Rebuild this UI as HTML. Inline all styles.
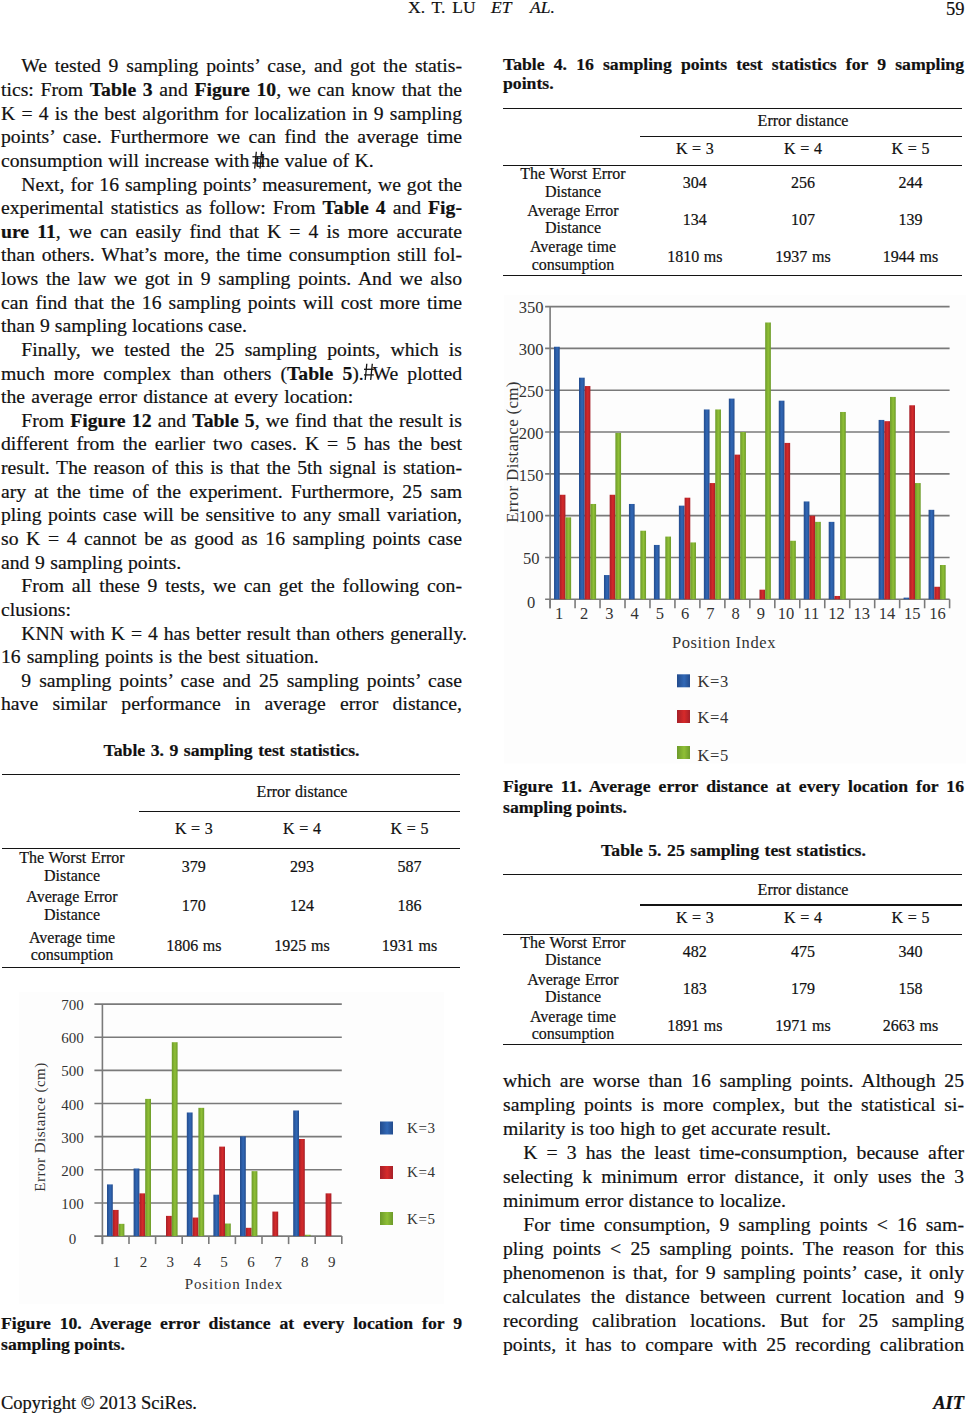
<!DOCTYPE html>
<html><head><meta charset="utf-8"><style>
html,body{margin:0;padding:0;background:#fff;}
body{width:966px;height:1414px;position:relative;overflow:hidden;font-family:"Liberation Serif",serif;color:#111;-webkit-text-stroke:0.2px #111;}
.l{position:absolute;white-space:nowrap;}
.l b{font-weight:bold;}
.r{position:absolute;background:#141414;}
.hs{position:relative;}
.hash{position:absolute;left:-2px;top:-1px;}
.hash2{position:absolute;left:-1px;top:-1px;}
svg text{font-family:"Liberation Serif",serif;-webkit-text-stroke:0;}
</style></head><body>
<div class="l " style="left:21.30px;top:56.40px;font-size:19.7px;line-height:19.7px;width:440.70px;text-align:justify;text-align-last:justify;">We tested 9 sampling points&rsquo; case, and got the statis-</div>
<div class="l " style="left:1.00px;top:80.03px;font-size:19.7px;line-height:19.7px;width:461.00px;text-align:justify;text-align-last:justify;">tics: From <b>Table 3</b> and <b>Figure 10</b>, we can know that the</div>
<div class="l " style="left:1.00px;top:103.66px;font-size:19.7px;line-height:19.7px;width:461.00px;text-align:justify;text-align-last:justify;">K = 4 is the best algorithm for localization in 9 sampling</div>
<div class="l " style="left:1.00px;top:127.29px;font-size:19.7px;line-height:19.7px;width:461.00px;text-align:justify;text-align-last:justify;">points&rsquo; case. Furthermore we can find the average time</div>
<div class="l " style="left:1.00px;top:150.92px;font-size:19.7px;line-height:19.7px;width:461.00px;word-spacing:0.6px;">consumption will increase with the value of K.</div>
<div class="l " style="left:21.30px;top:174.55px;font-size:19.7px;line-height:19.7px;width:440.70px;text-align:justify;text-align-last:justify;">Next, for 16 sampling points&rsquo; measurement, we got the</div>
<div class="l " style="left:1.00px;top:198.18px;font-size:19.7px;line-height:19.7px;width:461.00px;text-align:justify;text-align-last:justify;">experimental statistics as follow: From <b>Table 4</b> and <b>Fig-</b></div>
<div class="l " style="left:1.00px;top:221.81px;font-size:19.7px;line-height:19.7px;width:461.00px;text-align:justify;text-align-last:justify;"><b>ure 11</b>, we can easily find that K = 4 is more accurate</div>
<div class="l " style="left:1.00px;top:245.44px;font-size:19.7px;line-height:19.7px;width:461.00px;text-align:justify;text-align-last:justify;">than others. What&rsquo;s more, the time consumption still fol-</div>
<div class="l " style="left:1.00px;top:269.07px;font-size:19.7px;line-height:19.7px;width:461.00px;text-align:justify;text-align-last:justify;">lows the law we got in 9 sampling points. And we also</div>
<div class="l " style="left:1.00px;top:292.70px;font-size:19.7px;line-height:19.7px;width:461.00px;text-align:justify;text-align-last:justify;">can find that the 16 sampling points will cost more time</div>
<div class="l " style="left:1.00px;top:316.33px;font-size:19.7px;line-height:19.7px;width:461.00px;word-spacing:0.1px;">than 9 sampling locations case.</div>
<div class="l " style="left:21.30px;top:339.96px;font-size:19.7px;line-height:19.7px;width:440.70px;text-align:justify;text-align-last:justify;">Finally, we tested the 25 sampling points, which is</div>
<div class="l " style="left:1.00px;top:363.59px;font-size:19.7px;line-height:19.7px;width:461.00px;text-align:justify;text-align-last:justify;">much more complex than others (<b>Table 5</b>). We plotted</div>
<div class="l " style="left:1.00px;top:387.22px;font-size:19.7px;line-height:19.7px;width:461.00px;word-spacing:1.3px;">the average error distance at every location:</div>
<div class="l " style="left:21.30px;top:410.85px;font-size:19.7px;line-height:19.7px;width:440.70px;text-align:justify;text-align-last:justify;">From <b>Figure 12</b> and <b>Table 5</b>, we find that the result is</div>
<div class="l " style="left:1.00px;top:434.48px;font-size:19.7px;line-height:19.7px;width:461.00px;text-align:justify;text-align-last:justify;">different from the earlier two cases. K = 5 has the best</div>
<div class="l " style="left:1.00px;top:458.11px;font-size:19.7px;line-height:19.7px;width:461.00px;text-align:justify;text-align-last:justify;">result. The reason of this is that the 5th signal is station-</div>
<div class="l " style="left:1.00px;top:481.74px;font-size:19.7px;line-height:19.7px;width:461.00px;text-align:justify;text-align-last:justify;">ary at the time of the experiment. Furthermore, 25 sam</div>
<div class="l " style="left:1.00px;top:505.37px;font-size:19.7px;line-height:19.7px;width:461.00px;text-align:justify;text-align-last:justify;">pling points case will be sensitive to any small variation,</div>
<div class="l " style="left:1.00px;top:529.00px;font-size:19.7px;line-height:19.7px;width:461.00px;text-align:justify;text-align-last:justify;">so K = 4 cannot be as good as 16 sampling points case</div>
<div class="l " style="left:1.00px;top:552.63px;font-size:19.7px;line-height:19.7px;width:461.00px;word-spacing:0.6px;">and 9 sampling points.</div>
<div class="l " style="left:21.30px;top:576.26px;font-size:19.7px;line-height:19.7px;width:440.70px;text-align:justify;text-align-last:justify;">From all these 9 tests, we can get the following con-</div>
<div class="l " style="left:1.00px;top:599.89px;font-size:19.7px;line-height:19.7px;width:461.00px;word-spacing:0.6px;">clusions:</div>
<div class="l " style="left:21.30px;top:623.52px;font-size:19.7px;line-height:19.7px;width:440.70px;word-spacing:1.0px;">KNN with K = 4 has better result than others generally.</div>
<div class="l " style="left:1.00px;top:647.15px;font-size:19.7px;line-height:19.7px;width:461.00px;word-spacing:1.1px;">16 sampling points is the best situation.</div>
<div class="l " style="left:21.30px;top:670.78px;font-size:19.7px;line-height:19.7px;width:440.70px;text-align:justify;text-align-last:justify;">9 sampling points&rsquo; case and 25 sampling points&rsquo; case</div>
<div class="l " style="left:1.00px;top:694.41px;font-size:19.7px;line-height:19.7px;width:461.00px;text-align:justify;text-align-last:justify;">have similar performance in average error distance,</div>
<div class="l " style="left:503.00px;top:1071.10px;font-size:19.7px;line-height:19.7px;width:461.00px;text-align:justify;text-align-last:justify;">which are worse than 16 sampling points. Although 25</div>
<div class="l " style="left:503.00px;top:1095.06px;font-size:19.7px;line-height:19.7px;width:461.00px;text-align:justify;text-align-last:justify;">sampling points is more complex, but the statistical si-</div>
<div class="l " style="left:503.00px;top:1119.02px;font-size:19.7px;line-height:19.7px;width:461.00px;word-spacing:0.6px;">milarity is too high to get accurate result.</div>
<div class="l " style="left:523.30px;top:1142.98px;font-size:19.7px;line-height:19.7px;width:440.70px;text-align:justify;text-align-last:justify;">K = 3 has the least time-consumption, because after</div>
<div class="l " style="left:503.00px;top:1166.94px;font-size:19.7px;line-height:19.7px;width:461.00px;text-align:justify;text-align-last:justify;">selecting k minimum error distance, it only uses the 3</div>
<div class="l " style="left:503.00px;top:1190.90px;font-size:19.7px;line-height:19.7px;width:461.00px;word-spacing:0.6px;">minimum error distance to localize.</div>
<div class="l " style="left:523.30px;top:1214.86px;font-size:19.7px;line-height:19.7px;width:440.70px;text-align:justify;text-align-last:justify;">For time consumption, 9 sampling points &lt; 16 sam-</div>
<div class="l " style="left:503.00px;top:1238.82px;font-size:19.7px;line-height:19.7px;width:461.00px;text-align:justify;text-align-last:justify;">pling points &lt; 25 sampling points. The reason for this</div>
<div class="l " style="left:503.00px;top:1262.78px;font-size:19.7px;line-height:19.7px;width:461.00px;text-align:justify;text-align-last:justify;">phenomenon is that, for 9 sampling points&rsquo; case, it only</div>
<div class="l " style="left:503.00px;top:1286.74px;font-size:19.7px;line-height:19.7px;width:461.00px;text-align:justify;text-align-last:justify;">calculates the distance between current location and 9</div>
<div class="l " style="left:503.00px;top:1310.70px;font-size:19.7px;line-height:19.7px;width:461.00px;text-align:justify;text-align-last:justify;">recording calibration locations. But for 25 sampling</div>
<div class="l " style="left:503.00px;top:1334.66px;font-size:19.7px;line-height:19.7px;width:461.00px;text-align:justify;text-align-last:justify;">points, it has to compare with 25 recording calibration</div>
<svg style="position:absolute;left:0;top:0" width="966" height="1414"><g stroke="#141414" stroke-width="1.3" fill="none"><line x1="256.3" y1="151.8" x2="254.7" y2="168.6"/><line x1="261.6" y1="151.8" x2="260.0" y2="168.6"/><line x1="252.4" y1="156.8" x2="264.2" y2="156.8"/><line x1="252.4" y1="163.0" x2="264.2" y2="163.0"/></g></svg>
<svg style="position:absolute;left:0;top:0" width="966" height="1414"><g stroke="#141414" stroke-width="1.3" fill="none"><line x1="366.8" y1="363.7" x2="365.2" y2="380.0"/><line x1="372.3" y1="363.7" x2="370.7" y2="380.0"/><line x1="364.0" y1="369.3" x2="373.8" y2="369.3"/><line x1="364.0" y1="374.9" x2="373.8" y2="374.9"/></g></svg>
<div class="l" style="left:408px;top:-1.05px;font-size:17.5px;line-height:17.5px;word-spacing:2.5px">X. T. LU</div>
<div class="l" style="left:491px;top:-1.05px;font-size:17.5px;line-height:17.5px;font-style:italic">ET</div>
<div class="l" style="left:530px;top:-1.05px;font-size:17.5px;line-height:17.5px;font-style:italic">AL.</div>
<div class="l" style="right:1.5px;top:-0.49px;font-size:18.5px;line-height:18.5px;">59</div>
<div class="l" style="left:1px;top:1393.81px;font-size:18.5px;line-height:18.5px;">Copyright &copy; 2013 SciRes.</div>
<div class="l" style="right:2px;top:1393.81px;font-size:18.5px;line-height:18.5px;font-weight:bold;font-style:italic">AIT</div>
<div class="l" style="left:503px;top:55.58px;width:461px;font-size:17.7px;line-height:17.7px;font-weight:bold;text-align:justify;text-align-last:justify;">Table 4. 16 sampling points test statistics for 9 sampling</div>
<div class="l" style="left:503px;top:75.38px;width:461px;font-size:17.7px;line-height:17.7px;font-weight:bold;">points.</div>
<div class="l" style="left:1px;top:741.98px;width:461px;font-size:17.7px;line-height:17.7px;font-weight:bold;text-align:center;word-spacing:1.1px;">Table 3. 9 sampling test statistics.</div>
<div class="l" style="left:503px;top:778.18px;width:461px;font-size:17.7px;line-height:17.7px;font-weight:bold;text-align:justify;text-align-last:justify;">Figure 11. Average error distance at every location for 16</div>
<div class="l" style="left:503px;top:798.58px;width:461px;font-size:17.7px;line-height:17.7px;font-weight:bold;">sampling points.</div>
<div class="l" style="left:503px;top:841.78px;width:461px;font-size:17.7px;line-height:17.7px;font-weight:bold;text-align:center;word-spacing:1.1px;">Table 5. 25 sampling test statistics.</div>
<div class="l" style="left:1px;top:1314.93px;width:461px;font-size:17.7px;line-height:17.7px;font-weight:bold;text-align:justify;text-align-last:justify;">Figure 10. Average error distance at every location for 9</div>
<div class="l" style="left:1px;top:1335.58px;width:461px;font-size:17.7px;line-height:17.7px;font-weight:bold;">sampling points.</div>
<div class="r" style="left:2px;top:773.50px;width:458px;height:1.4px"></div>
<div class="r" style="left:139px;top:810.60px;width:321px;height:1.4px"></div>
<div class="r" style="left:2px;top:847.70px;width:458px;height:1.4px"></div>
<div class="r" style="left:2px;top:966.50px;width:458px;height:1.4px"></div>
<div class="l" style="left:202.00px;width:200px;text-align:center;top:784.40px;font-size:16.0px;line-height:16.0px;word-spacing:0.6px">Error distance</div>
<div class="l" style="left:93.80px;width:200px;text-align:center;top:820.60px;font-size:16.0px;line-height:16.0px;word-spacing:0.6px">K = 3</div>
<div class="l" style="left:202.00px;width:200px;text-align:center;top:820.60px;font-size:16.0px;line-height:16.0px;word-spacing:0.6px">K = 4</div>
<div class="l" style="left:309.50px;width:200px;text-align:center;top:820.60px;font-size:16.0px;line-height:16.0px;word-spacing:0.6px">K = 5</div>
<div class="l" style="left:-28.00px;width:200px;text-align:center;top:849.50px;font-size:16.0px;line-height:16.0px;word-spacing:0.6px">The Worst Error</div>
<div class="l" style="left:-28.00px;width:200px;text-align:center;top:868.40px;font-size:16.0px;line-height:16.0px;word-spacing:0.6px">Distance</div>
<div class="l" style="left:93.80px;width:200px;text-align:center;top:859.30px;font-size:16.0px;line-height:16.0px;word-spacing:0.6px">379</div>
<div class="l" style="left:202.00px;width:200px;text-align:center;top:859.30px;font-size:16.0px;line-height:16.0px;word-spacing:0.6px">293</div>
<div class="l" style="left:309.50px;width:200px;text-align:center;top:859.30px;font-size:16.0px;line-height:16.0px;word-spacing:0.6px">587</div>
<div class="l" style="left:-28.00px;width:200px;text-align:center;top:889.30px;font-size:16.0px;line-height:16.0px;word-spacing:0.6px">Average Error</div>
<div class="l" style="left:-28.00px;width:200px;text-align:center;top:907.40px;font-size:16.0px;line-height:16.0px;word-spacing:0.6px">Distance</div>
<div class="l" style="left:93.80px;width:200px;text-align:center;top:898.10px;font-size:16.0px;line-height:16.0px;word-spacing:0.6px">170</div>
<div class="l" style="left:202.00px;width:200px;text-align:center;top:898.10px;font-size:16.0px;line-height:16.0px;word-spacing:0.6px">124</div>
<div class="l" style="left:309.50px;width:200px;text-align:center;top:898.10px;font-size:16.0px;line-height:16.0px;word-spacing:0.6px">186</div>
<div class="l" style="left:-28.00px;width:200px;text-align:center;top:929.80px;font-size:16.0px;line-height:16.0px;word-spacing:0.6px">Average time</div>
<div class="l" style="left:-28.00px;width:200px;text-align:center;top:946.60px;font-size:16.0px;line-height:16.0px;word-spacing:0.6px">consumption</div>
<div class="l" style="left:93.80px;width:200px;text-align:center;top:938.30px;font-size:16.0px;line-height:16.0px;word-spacing:0.6px">1806 ms</div>
<div class="l" style="left:202.00px;width:200px;text-align:center;top:938.30px;font-size:16.0px;line-height:16.0px;word-spacing:0.6px">1925 ms</div>
<div class="l" style="left:309.50px;width:200px;text-align:center;top:938.30px;font-size:16.0px;line-height:16.0px;word-spacing:0.6px">1931 ms</div>
<div class="r" style="left:503px;top:107.70px;width:459px;height:1.4px"></div>
<div class="r" style="left:640px;top:135.80px;width:322px;height:1.4px"></div>
<div class="r" style="left:503px;top:165.00px;width:459px;height:1.4px"></div>
<div class="r" style="left:503px;top:274.50px;width:459px;height:1.4px"></div>
<div class="l" style="left:703.00px;width:200px;text-align:center;top:113.40px;font-size:16.0px;line-height:16.0px;word-spacing:0.6px">Error distance</div>
<div class="l" style="left:594.80px;width:200px;text-align:center;top:141.20px;font-size:16.0px;line-height:16.0px;word-spacing:0.6px">K = 3</div>
<div class="l" style="left:703.00px;width:200px;text-align:center;top:141.20px;font-size:16.0px;line-height:16.0px;word-spacing:0.6px">K = 4</div>
<div class="l" style="left:810.50px;width:200px;text-align:center;top:141.20px;font-size:16.0px;line-height:16.0px;word-spacing:0.6px">K = 5</div>
<div class="l" style="left:473.00px;width:200px;text-align:center;top:165.60px;font-size:16.0px;line-height:16.0px;word-spacing:0.6px">The Worst Error</div>
<div class="l" style="left:473.00px;width:200px;text-align:center;top:183.50px;font-size:16.0px;line-height:16.0px;word-spacing:0.6px">Distance</div>
<div class="l" style="left:594.80px;width:200px;text-align:center;top:174.80px;font-size:16.0px;line-height:16.0px;word-spacing:0.6px">304</div>
<div class="l" style="left:703.00px;width:200px;text-align:center;top:174.80px;font-size:16.0px;line-height:16.0px;word-spacing:0.6px">256</div>
<div class="l" style="left:810.50px;width:200px;text-align:center;top:174.80px;font-size:16.0px;line-height:16.0px;word-spacing:0.6px">244</div>
<div class="l" style="left:473.00px;width:200px;text-align:center;top:202.90px;font-size:16.0px;line-height:16.0px;word-spacing:0.6px">Average Error</div>
<div class="l" style="left:473.00px;width:200px;text-align:center;top:220.30px;font-size:16.0px;line-height:16.0px;word-spacing:0.6px">Distance</div>
<div class="l" style="left:594.80px;width:200px;text-align:center;top:211.60px;font-size:16.0px;line-height:16.0px;word-spacing:0.6px">134</div>
<div class="l" style="left:703.00px;width:200px;text-align:center;top:211.60px;font-size:16.0px;line-height:16.0px;word-spacing:0.6px">107</div>
<div class="l" style="left:810.50px;width:200px;text-align:center;top:211.60px;font-size:16.0px;line-height:16.0px;word-spacing:0.6px">139</div>
<div class="l" style="left:473.00px;width:200px;text-align:center;top:239.40px;font-size:16.0px;line-height:16.0px;word-spacing:0.6px">Average time</div>
<div class="l" style="left:473.00px;width:200px;text-align:center;top:256.80px;font-size:16.0px;line-height:16.0px;word-spacing:0.6px">consumption</div>
<div class="l" style="left:594.80px;width:200px;text-align:center;top:248.60px;font-size:16.0px;line-height:16.0px;word-spacing:0.6px">1810 ms</div>
<div class="l" style="left:703.00px;width:200px;text-align:center;top:248.60px;font-size:16.0px;line-height:16.0px;word-spacing:0.6px">1937 ms</div>
<div class="l" style="left:810.50px;width:200px;text-align:center;top:248.60px;font-size:16.0px;line-height:16.0px;word-spacing:0.6px">1944 ms</div>
<div class="r" style="left:503px;top:874.00px;width:459px;height:1.4px"></div>
<div class="r" style="left:640px;top:904.30px;width:322px;height:1.4px"></div>
<div class="r" style="left:503px;top:933.60px;width:459px;height:1.4px"></div>
<div class="r" style="left:503px;top:1043.50px;width:459px;height:1.4px"></div>
<div class="l" style="left:703.00px;width:200px;text-align:center;top:881.70px;font-size:16.0px;line-height:16.0px;word-spacing:0.6px">Error distance</div>
<div class="l" style="left:594.80px;width:200px;text-align:center;top:910.30px;font-size:16.0px;line-height:16.0px;word-spacing:0.6px">K = 3</div>
<div class="l" style="left:703.00px;width:200px;text-align:center;top:910.30px;font-size:16.0px;line-height:16.0px;word-spacing:0.6px">K = 4</div>
<div class="l" style="left:810.50px;width:200px;text-align:center;top:910.30px;font-size:16.0px;line-height:16.0px;word-spacing:0.6px">K = 5</div>
<div class="l" style="left:473.00px;width:200px;text-align:center;top:934.60px;font-size:16.0px;line-height:16.0px;word-spacing:0.6px">The Worst Error</div>
<div class="l" style="left:473.00px;width:200px;text-align:center;top:952.00px;font-size:16.0px;line-height:16.0px;word-spacing:0.6px">Distance</div>
<div class="l" style="left:594.80px;width:200px;text-align:center;top:943.80px;font-size:16.0px;line-height:16.0px;word-spacing:0.6px">482</div>
<div class="l" style="left:703.00px;width:200px;text-align:center;top:943.80px;font-size:16.0px;line-height:16.0px;word-spacing:0.6px">475</div>
<div class="l" style="left:810.50px;width:200px;text-align:center;top:943.80px;font-size:16.0px;line-height:16.0px;word-spacing:0.6px">340</div>
<div class="l" style="left:473.00px;width:200px;text-align:center;top:971.90px;font-size:16.0px;line-height:16.0px;word-spacing:0.6px">Average Error</div>
<div class="l" style="left:473.00px;width:200px;text-align:center;top:989.30px;font-size:16.0px;line-height:16.0px;word-spacing:0.6px">Distance</div>
<div class="l" style="left:594.80px;width:200px;text-align:center;top:980.60px;font-size:16.0px;line-height:16.0px;word-spacing:0.6px">183</div>
<div class="l" style="left:703.00px;width:200px;text-align:center;top:980.60px;font-size:16.0px;line-height:16.0px;word-spacing:0.6px">179</div>
<div class="l" style="left:810.50px;width:200px;text-align:center;top:980.60px;font-size:16.0px;line-height:16.0px;word-spacing:0.6px">158</div>
<div class="l" style="left:473.00px;width:200px;text-align:center;top:1008.60px;font-size:16.0px;line-height:16.0px;word-spacing:0.6px">Average time</div>
<div class="l" style="left:473.00px;width:200px;text-align:center;top:1026.00px;font-size:16.0px;line-height:16.0px;word-spacing:0.6px">consumption</div>
<div class="l" style="left:594.80px;width:200px;text-align:center;top:1017.80px;font-size:16.0px;line-height:16.0px;word-spacing:0.6px">1891 ms</div>
<div class="l" style="left:703.00px;width:200px;text-align:center;top:1017.80px;font-size:16.0px;line-height:16.0px;word-spacing:0.6px">1971 ms</div>
<div class="l" style="left:810.50px;width:200px;text-align:center;top:1017.80px;font-size:16.0px;line-height:16.0px;word-spacing:0.6px">2663 ms</div>
<svg style="position:absolute;left:0px;top:985px" width="483" height="325" viewBox="0 985 483 325"><defs><linearGradient id="gb0" x1="0" x2="1" y1="0" y2="0"><stop offset="0" stop-color="#234b8c"/><stop offset="0.55" stop-color="#3168b6"/><stop offset="1" stop-color="#234b8c"/></linearGradient><linearGradient id="gr0" x1="0" x2="1" y1="0" y2="0"><stop offset="0" stop-color="#a51f28"/><stop offset="0.55" stop-color="#d62a2a"/><stop offset="1" stop-color="#a51f28"/></linearGradient><linearGradient id="gg0" x1="0" x2="1" y1="0" y2="0"><stop offset="0" stop-color="#6c9a2a"/><stop offset="0.55" stop-color="#8fbf36"/><stop offset="1" stop-color="#6c9a2a"/></linearGradient></defs><rect x="19" y="992" width="425" height="312" fill="#fdfdfd"/><line x1="94.4" y1="1236.10" x2="341.8" y2="1236.10" stroke="#7a7a7a" stroke-width="1.6"/><text x="72.5" y="1243.80" font-size="15" text-anchor="middle" fill="#333">0</text><line x1="94.4" y1="1202.96" x2="341.8" y2="1202.96" stroke="#7a7a7a" stroke-width="1.6"/><text x="72.5" y="1209.06" font-size="15" text-anchor="middle" fill="#333">100</text><line x1="94.4" y1="1169.81" x2="341.8" y2="1169.81" stroke="#7a7a7a" stroke-width="1.6"/><text x="72.5" y="1175.91" font-size="15" text-anchor="middle" fill="#333">200</text><line x1="94.4" y1="1136.67" x2="341.8" y2="1136.67" stroke="#7a7a7a" stroke-width="1.6"/><text x="72.5" y="1142.77" font-size="15" text-anchor="middle" fill="#333">300</text><line x1="94.4" y1="1103.53" x2="341.8" y2="1103.53" stroke="#7a7a7a" stroke-width="1.6"/><text x="72.5" y="1109.63" font-size="15" text-anchor="middle" fill="#333">400</text><line x1="94.4" y1="1070.39" x2="341.8" y2="1070.39" stroke="#7a7a7a" stroke-width="1.6"/><text x="72.5" y="1076.49" font-size="15" text-anchor="middle" fill="#333">500</text><line x1="94.4" y1="1037.24" x2="341.8" y2="1037.24" stroke="#7a7a7a" stroke-width="1.6"/><text x="72.5" y="1043.34" font-size="15" text-anchor="middle" fill="#333">600</text><line x1="94.4" y1="1004.10" x2="341.8" y2="1004.10" stroke="#7a7a7a" stroke-width="1.6"/><text x="72.5" y="1010.20" font-size="15" text-anchor="middle" fill="#333">700</text><line x1="102.4" y1="1004.1" x2="102.4" y2="1244.1" stroke="#7a7a7a" stroke-width="1.6"/><line x1="102.40" y1="1236.1" x2="102.40" y2="1244.1" stroke="#7a7a7a" stroke-width="1.6"/><line x1="129.00" y1="1236.1" x2="129.00" y2="1244.1" stroke="#7a7a7a" stroke-width="1.6"/><line x1="155.60" y1="1236.1" x2="155.60" y2="1244.1" stroke="#7a7a7a" stroke-width="1.6"/><line x1="182.20" y1="1236.1" x2="182.20" y2="1244.1" stroke="#7a7a7a" stroke-width="1.6"/><line x1="208.80" y1="1236.1" x2="208.80" y2="1244.1" stroke="#7a7a7a" stroke-width="1.6"/><line x1="235.40" y1="1236.1" x2="235.40" y2="1244.1" stroke="#7a7a7a" stroke-width="1.6"/><line x1="262.00" y1="1236.1" x2="262.00" y2="1244.1" stroke="#7a7a7a" stroke-width="1.6"/><line x1="288.60" y1="1236.1" x2="288.60" y2="1244.1" stroke="#7a7a7a" stroke-width="1.6"/><line x1="315.20" y1="1236.1" x2="315.20" y2="1244.1" stroke="#7a7a7a" stroke-width="1.6"/><line x1="341.80" y1="1236.1" x2="341.80" y2="1244.1" stroke="#7a7a7a" stroke-width="1.6"/><rect x="107.00" y="1184.40" width="5.80" height="51.70" fill="url(#gb0)"/><rect x="112.80" y="1209.92" width="5.80" height="26.18" fill="url(#gr0)"/><rect x="118.60" y="1223.84" width="5.80" height="12.26" fill="url(#gg0)"/><text x="116.50" y="1266.5" font-size="15" text-anchor="middle" fill="#333">1</text><rect x="133.60" y="1168.49" width="5.80" height="67.61" fill="url(#gb0)"/><rect x="139.40" y="1193.35" width="5.80" height="42.75" fill="url(#gr0)"/><rect x="145.20" y="1098.89" width="5.80" height="137.21" fill="url(#gg0)"/><text x="143.40" y="1266.5" font-size="15" text-anchor="middle" fill="#333">2</text><rect x="166.00" y="1215.88" width="5.80" height="20.22" fill="url(#gr0)"/><rect x="171.80" y="1042.21" width="5.80" height="193.89" fill="url(#gg0)"/><text x="170.30" y="1266.5" font-size="15" text-anchor="middle" fill="#333">3</text><rect x="186.80" y="1112.48" width="5.80" height="123.62" fill="url(#gb0)"/><rect x="192.60" y="1217.54" width="5.80" height="18.56" fill="url(#gr0)"/><rect x="198.40" y="1107.84" width="5.80" height="128.26" fill="url(#gg0)"/><text x="197.20" y="1266.5" font-size="15" text-anchor="middle" fill="#333">4</text><rect x="213.40" y="1194.67" width="5.80" height="41.43" fill="url(#gb0)"/><rect x="219.20" y="1146.61" width="5.80" height="89.49" fill="url(#gr0)"/><rect x="225.00" y="1223.51" width="5.80" height="12.59" fill="url(#gg0)"/><text x="224.10" y="1266.5" font-size="15" text-anchor="middle" fill="#333">5</text><rect x="240.00" y="1136.34" width="5.80" height="99.76" fill="url(#gb0)"/><rect x="245.80" y="1227.81" width="5.80" height="8.29" fill="url(#gr0)"/><rect x="251.60" y="1171.14" width="5.80" height="64.96" fill="url(#gg0)"/><text x="251.00" y="1266.5" font-size="15" text-anchor="middle" fill="#333">6</text><rect x="272.40" y="1211.57" width="5.80" height="24.53" fill="url(#gr0)"/><text x="277.90" y="1266.5" font-size="15" text-anchor="middle" fill="#333">7</text><rect x="293.20" y="1110.49" width="5.80" height="125.61" fill="url(#gb0)"/><rect x="299.00" y="1138.99" width="5.80" height="97.11" fill="url(#gr0)"/><rect x="304.80" y="1234.77" width="5.80" height="1.33" fill="url(#gg0)"/><text x="304.80" y="1266.5" font-size="15" text-anchor="middle" fill="#333">8</text><rect x="325.60" y="1193.35" width="5.80" height="42.75" fill="url(#gr0)"/><text x="331.70" y="1266.5" font-size="15" text-anchor="middle" fill="#333">9</text><text x="234" y="1289" font-size="15" text-anchor="middle" fill="#333" letter-spacing="0.8">Position Index</text><text transform="translate(44.8,1127) rotate(-90)" font-size="15" text-anchor="middle" fill="#333" letter-spacing="0.5">Error Distance (cm)</text><rect x="380" y="1121.5" width="13" height="13" fill="url(#gb0)"/><text x="407" y="1133" font-size="15" fill="#333" letter-spacing="0.6">K=3</text><rect x="380" y="1166" width="13" height="13" fill="url(#gr0)"/><text x="407" y="1177" font-size="15" fill="#333" letter-spacing="0.6">K=4</text><rect x="380" y="1212" width="13" height="13" fill="url(#gg0)"/><text x="407" y="1223.6" font-size="15" fill="#333" letter-spacing="0.6">K=5</text></svg>
<svg style="position:absolute;left:483px;top:285px" width="483" height="490" viewBox="483 285 483 490"><defs><linearGradient id="gb483" x1="0" x2="1" y1="0" y2="0"><stop offset="0" stop-color="#234b8c"/><stop offset="0.55" stop-color="#3168b6"/><stop offset="1" stop-color="#234b8c"/></linearGradient><linearGradient id="gr483" x1="0" x2="1" y1="0" y2="0"><stop offset="0" stop-color="#a51f28"/><stop offset="0.55" stop-color="#d62a2a"/><stop offset="1" stop-color="#a51f28"/></linearGradient><linearGradient id="gg483" x1="0" x2="1" y1="0" y2="0"><stop offset="0" stop-color="#6c9a2a"/><stop offset="0.55" stop-color="#8fbf36"/><stop offset="1" stop-color="#6c9a2a"/></linearGradient></defs><rect x="504" y="295" width="462" height="468.5" fill="#fdfdfd"/><line x1="545.1" y1="599.30" x2="949.6" y2="599.30" stroke="#7a7a7a" stroke-width="1.6"/><text x="531.2" y="607.54" font-size="16.5" text-anchor="middle" fill="#333">0</text><line x1="545.1" y1="557.49" x2="949.6" y2="557.49" stroke="#7a7a7a" stroke-width="1.6"/><text x="531.2" y="564.13" font-size="16.5" text-anchor="middle" fill="#333">50</text><line x1="545.1" y1="515.67" x2="949.6" y2="515.67" stroke="#7a7a7a" stroke-width="1.6"/><text x="531.2" y="522.31" font-size="16.5" text-anchor="middle" fill="#333">100</text><line x1="545.1" y1="473.86" x2="949.6" y2="473.86" stroke="#7a7a7a" stroke-width="1.6"/><text x="531.2" y="480.50" font-size="16.5" text-anchor="middle" fill="#333">150</text><line x1="545.1" y1="432.04" x2="949.6" y2="432.04" stroke="#7a7a7a" stroke-width="1.6"/><text x="531.2" y="438.68" font-size="16.5" text-anchor="middle" fill="#333">200</text><line x1="545.1" y1="390.23" x2="949.6" y2="390.23" stroke="#7a7a7a" stroke-width="1.6"/><text x="531.2" y="396.87" font-size="16.5" text-anchor="middle" fill="#333">250</text><line x1="545.1" y1="348.41" x2="949.6" y2="348.41" stroke="#7a7a7a" stroke-width="1.6"/><text x="531.2" y="355.05" font-size="16.5" text-anchor="middle" fill="#333">300</text><line x1="545.1" y1="306.60" x2="949.6" y2="306.60" stroke="#7a7a7a" stroke-width="1.6"/><text x="531.2" y="313.24" font-size="16.5" text-anchor="middle" fill="#333">350</text><line x1="550.1" y1="306.6" x2="550.1" y2="608.3" stroke="#7a7a7a" stroke-width="1.6"/><line x1="550.10" y1="599.3" x2="550.10" y2="608.3" stroke="#7a7a7a" stroke-width="1.6"/><line x1="575.07" y1="599.3" x2="575.07" y2="608.3" stroke="#7a7a7a" stroke-width="1.6"/><line x1="600.04" y1="599.3" x2="600.04" y2="608.3" stroke="#7a7a7a" stroke-width="1.6"/><line x1="625.01" y1="599.3" x2="625.01" y2="608.3" stroke="#7a7a7a" stroke-width="1.6"/><line x1="649.98" y1="599.3" x2="649.98" y2="608.3" stroke="#7a7a7a" stroke-width="1.6"/><line x1="674.94" y1="599.3" x2="674.94" y2="608.3" stroke="#7a7a7a" stroke-width="1.6"/><line x1="699.91" y1="599.3" x2="699.91" y2="608.3" stroke="#7a7a7a" stroke-width="1.6"/><line x1="724.88" y1="599.3" x2="724.88" y2="608.3" stroke="#7a7a7a" stroke-width="1.6"/><line x1="749.85" y1="599.3" x2="749.85" y2="608.3" stroke="#7a7a7a" stroke-width="1.6"/><line x1="774.82" y1="599.3" x2="774.82" y2="608.3" stroke="#7a7a7a" stroke-width="1.6"/><line x1="799.79" y1="599.3" x2="799.79" y2="608.3" stroke="#7a7a7a" stroke-width="1.6"/><line x1="824.76" y1="599.3" x2="824.76" y2="608.3" stroke="#7a7a7a" stroke-width="1.6"/><line x1="849.73" y1="599.3" x2="849.73" y2="608.3" stroke="#7a7a7a" stroke-width="1.6"/><line x1="874.69" y1="599.3" x2="874.69" y2="608.3" stroke="#7a7a7a" stroke-width="1.6"/><line x1="899.66" y1="599.3" x2="899.66" y2="608.3" stroke="#7a7a7a" stroke-width="1.6"/><line x1="924.63" y1="599.3" x2="924.63" y2="608.3" stroke="#7a7a7a" stroke-width="1.6"/><line x1="949.60" y1="599.3" x2="949.60" y2="608.3" stroke="#7a7a7a" stroke-width="1.6"/><rect x="554.03" y="346.74" width="5.70" height="252.56" fill="url(#gb483)"/><rect x="559.73" y="494.76" width="5.70" height="104.54" fill="url(#gr483)"/><rect x="565.43" y="517.34" width="5.70" height="81.96" fill="url(#gg483)"/><text x="559.00" y="619" font-size="16.5" text-anchor="middle" fill="#333">1</text><rect x="579.00" y="377.68" width="5.70" height="221.62" fill="url(#gb483)"/><rect x="584.70" y="386.05" width="5.70" height="213.25" fill="url(#gr483)"/><rect x="590.40" y="503.96" width="5.70" height="95.34" fill="url(#gg483)"/><text x="584.23" y="619" font-size="16.5" text-anchor="middle" fill="#333">2</text><rect x="603.97" y="575.05" width="5.70" height="24.25" fill="url(#gb483)"/><rect x="609.67" y="494.76" width="5.70" height="104.54" fill="url(#gr483)"/><rect x="615.37" y="432.88" width="5.70" height="166.42" fill="url(#gg483)"/><text x="609.46" y="619" font-size="16.5" text-anchor="middle" fill="#333">3</text><rect x="628.94" y="503.96" width="5.70" height="95.34" fill="url(#gb483)"/><rect x="640.34" y="530.72" width="5.70" height="68.58" fill="url(#gg483)"/><text x="634.69" y="619" font-size="16.5" text-anchor="middle" fill="#333">4</text><rect x="653.91" y="544.94" width="5.70" height="54.36" fill="url(#gb483)"/><rect x="665.31" y="536.58" width="5.70" height="62.72" fill="url(#gg483)"/><text x="659.92" y="619" font-size="16.5" text-anchor="middle" fill="#333">5</text><rect x="678.88" y="505.64" width="5.70" height="93.66" fill="url(#gb483)"/><rect x="684.58" y="497.69" width="5.70" height="101.61" fill="url(#gr483)"/><rect x="690.28" y="542.43" width="5.70" height="56.87" fill="url(#gg483)"/><text x="685.15" y="619" font-size="16.5" text-anchor="middle" fill="#333">6</text><rect x="703.85" y="409.46" width="5.70" height="189.84" fill="url(#gb483)"/><rect x="709.55" y="483.06" width="5.70" height="116.24" fill="url(#gr483)"/><rect x="715.25" y="409.46" width="5.70" height="189.84" fill="url(#gg483)"/><text x="710.38" y="619" font-size="16.5" text-anchor="middle" fill="#333">7</text><rect x="728.82" y="398.59" width="5.70" height="200.71" fill="url(#gb483)"/><rect x="734.52" y="454.62" width="5.70" height="144.68" fill="url(#gr483)"/><rect x="740.22" y="432.04" width="5.70" height="167.26" fill="url(#gg483)"/><text x="735.61" y="619" font-size="16.5" text-anchor="middle" fill="#333">8</text><rect x="759.48" y="589.68" width="5.70" height="9.62" fill="url(#gr483)"/><rect x="765.18" y="322.49" width="5.70" height="276.81" fill="url(#gg483)"/><text x="760.84" y="619" font-size="16.5" text-anchor="middle" fill="#333">9</text><rect x="778.75" y="400.68" width="5.70" height="198.62" fill="url(#gb483)"/><rect x="784.45" y="442.91" width="5.70" height="156.39" fill="url(#gr483)"/><rect x="790.15" y="540.76" width="5.70" height="58.54" fill="url(#gg483)"/><text x="786.07" y="619" font-size="16.5" text-anchor="middle" fill="#333">10</text><rect x="803.72" y="501.45" width="5.70" height="97.85" fill="url(#gb483)"/><rect x="809.42" y="515.67" width="5.70" height="83.63" fill="url(#gr483)"/><rect x="815.12" y="521.86" width="5.70" height="77.44" fill="url(#gg483)"/><text x="811.30" y="619" font-size="16.5" text-anchor="middle" fill="#333">11</text><rect x="828.69" y="521.86" width="5.70" height="77.44" fill="url(#gb483)"/><rect x="834.39" y="595.95" width="5.70" height="3.35" fill="url(#gr483)"/><rect x="840.09" y="411.97" width="5.70" height="187.33" fill="url(#gg483)"/><text x="836.53" y="619" font-size="16.5" text-anchor="middle" fill="#333">12</text><text x="861.76" y="619" font-size="16.5" text-anchor="middle" fill="#333">13</text><rect x="878.63" y="419.92" width="5.70" height="179.38" fill="url(#gb483)"/><rect x="884.33" y="421.17" width="5.70" height="178.13" fill="url(#gr483)"/><rect x="890.03" y="396.92" width="5.70" height="202.38" fill="url(#gg483)"/><text x="886.99" y="619" font-size="16.5" text-anchor="middle" fill="#333">14</text><rect x="903.60" y="597.63" width="5.70" height="1.67" fill="url(#gb483)"/><rect x="909.30" y="405.28" width="5.70" height="194.02" fill="url(#gr483)"/><rect x="915.00" y="483.06" width="5.70" height="116.24" fill="url(#gg483)"/><text x="912.22" y="619" font-size="16.5" text-anchor="middle" fill="#333">15</text><rect x="928.57" y="509.82" width="5.70" height="89.48" fill="url(#gb483)"/><rect x="934.27" y="586.76" width="5.70" height="12.54" fill="url(#gr483)"/><rect x="939.97" y="565.01" width="5.70" height="34.29" fill="url(#gg483)"/><text x="937.45" y="619" font-size="16.5" text-anchor="middle" fill="#333">16</text><text x="724" y="648" font-size="16.5" text-anchor="middle" fill="#333" letter-spacing="0.6">Position Index</text><text transform="translate(517.7,452) rotate(-90)" font-size="17" text-anchor="middle" fill="#333" letter-spacing="0.3">Error Distance (cm)</text><rect x="677" y="674.3" width="13" height="13" fill="url(#gb483)"/><text x="697.5" y="686.7" font-size="16.5" fill="#333" letter-spacing="0.6">K=3</text><rect x="677" y="710" width="13" height="13" fill="url(#gr483)"/><text x="697.5" y="722.5" font-size="16.5" fill="#333" letter-spacing="0.6">K=4</text><rect x="677" y="746" width="13" height="13" fill="url(#gg483)"/><text x="697.5" y="761" font-size="16.5" fill="#333" letter-spacing="0.6">K=5</text></svg>
</body></html>
